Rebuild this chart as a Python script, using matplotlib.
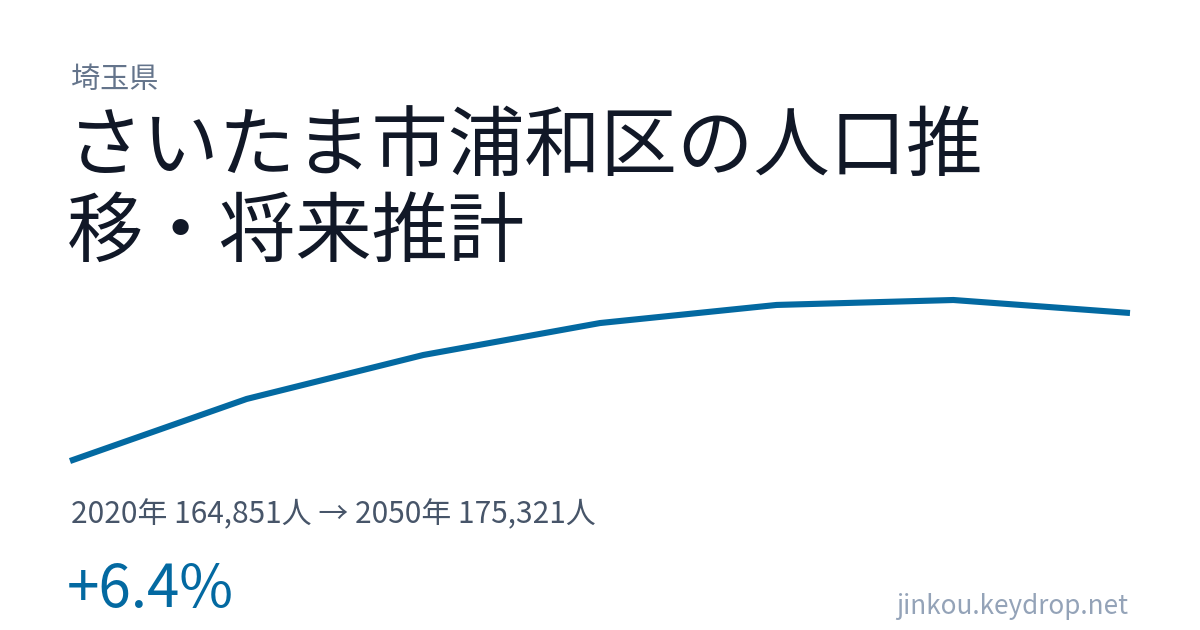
import matplotlib
matplotlib.use("Agg")
import matplotlib.pyplot as plt

plt.rcParams['font.family'] = ['Noto Sans CJK JP', 'DejaVu Sans']

years = [2020, 2025, 2030, 2035, 2040, 2045, 2050]
population = [164851, 169240, 172350, 174610, 175890, 176240, 175321]

prefecture = '埼玉県'
title_lines = ['さいたま市浦和区の人口推', '移・将来推計']
summary = '2020年 164,851人 → 2050年 175,321人'
change = '+6.4%'
site = 'jinkou.keydrop.net'

W, H = 1200, 630
fig = plt.figure(figsize=(12, 6.3), dpi=100)
fig.patch.set_facecolor('white')

# line area in pixels: x 70..1130, y 300..461 (from top)
ax = fig.add_axes([70 / W, 1 - 461 / H, 1060 / W, 161 / H])
ax.plot(years, population, color='#0369a1', lw=4.4, solid_capstyle='butt',
        solid_joinstyle='miter', clip_on=False)
ax.set_xlim(min(years), max(years))
ax.set_ylim(min(population), max(population))
ax.axis('off')

def px(x, y):
    return x / W, 1 - y / H

fig.text(*px(71, 80), prefecture, fontsize=21, color='#64748b', va='center')
fig.text(*px(67, 148), title_lines[0], fontsize=55, color='#111827', va='center')
fig.text(*px(67, 234), title_lines[1], fontsize=55, color='#111827', va='center')
fig.text(*px(71, 515), summary, fontsize=21.5, color='#475569', va='center')
fig.text(*px(67, 590), change, fontsize=42, color='#0369a1', va='center')
fig.text(*px(1128, 606), site, fontsize=18.8, color='#94a3b8', va='center', ha='right')

fig.savefig('out.png', dpi=100, facecolor='white')
